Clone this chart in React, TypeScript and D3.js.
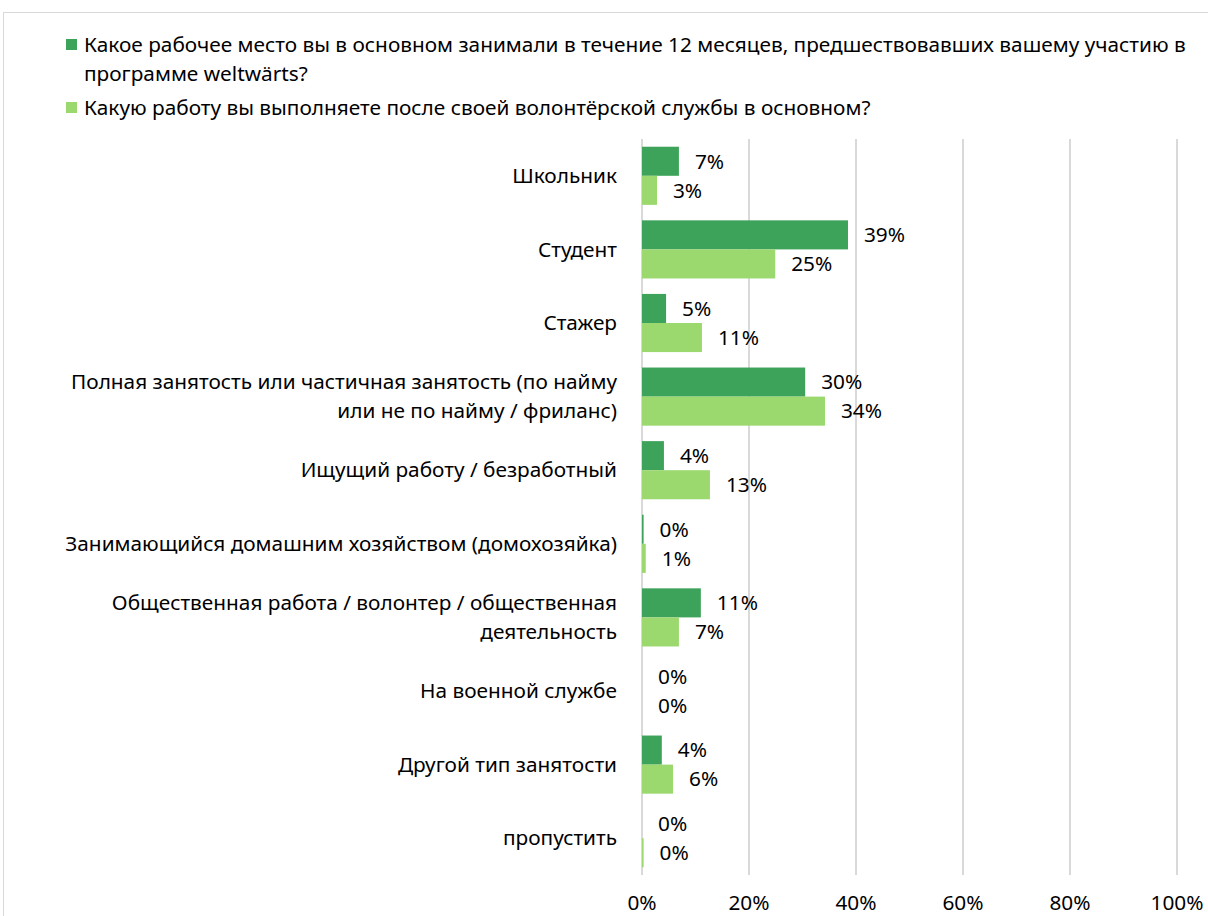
import * as d3 from "d3";
import React from "react";

const categories: string[][] = [
  ["Школьник"],
  ["Студент"],
  ["Стажер"],
  ["Полная занятость или частичная занятость (по найму", "или не по найму / фриланс)"],
  ["Ищущий работу / безработный"],
  ["Занимающийся домашним хозяйством (домохозяйка)"],
  ["Общественная работа / волонтер / общественная", "деятельность"],
  ["На военной службе"],
  ["Другой тип занятости"],
  ["пропустить"],
];

const before = [6.9, 38.5, 4.5, 30.5, 4.1, 0.3, 11.0, 0, 3.7, 0];
const after = [2.8, 24.9, 11.2, 34.2, 12.7, 0.7, 6.9, 0, 5.8, 0.3];
const beforeLabels = ["7%", "39%", "5%", "30%", "4%", "0%", "11%", "0%", "4%", "0%"];
const afterLabels = ["3%", "25%", "11%", "34%", "13%", "1%", "7%", "0%", "6%", "0%"];
const ticks = [0, 20, 40, 60, 80, 100];

const legend = [
  ["Какое рабочее место вы в основном занимали в течение 12 месяцев, предшествовавших вашему участию в", "программе weltwärts?"],
  ["Какую работу вы выполняете после своей волонтёрской службы в основном?"],
];

const dark = "#3ea35a";
const light = "#9bd86e";
const font = "'Noto Sans', 'Open Sans', sans-serif";
const fs = 20.8;

export default function App() {
  const W = 1208, H = 916;
  const x = d3.scaleLinear().domain([0, 100]).range([642, 1177]);
  const y = d3.scaleBand<number>().domain(d3.range(categories.length)).range([139, 875]).paddingInner(0.21).paddingOuter(0.105);
  const bh = y.bandwidth() / 2;

  return (
    <div style={{ position: "absolute", left: 0, top: 0 }}>
      <svg width={W} height={H} style={{ display: "block", fontFamily: font }}>
        <rect x={0} y={0} width={W} height={H} fill="#fff" />
        <rect x={3.5} y={12.5} width={W + 10} height={H} fill="none" stroke="#d9d9d9" />
        {/* legend */}
        <rect x={66} y={39} width={11} height={11} fill={dark} />
        <text x={84} y={45} dy="0.35em" fontSize={fs} fill="#000">{legend[0][0]}</text>
        <text x={84} y={74} dy="0.35em" fontSize={fs} fill="#000">{legend[0][1]}</text>
        <rect x={66} y={102} width={11} height={11} fill={light} />
        <text x={84} y={108} dy="0.35em" fontSize={fs} fill="#000">{legend[1][0]}</text>

        {/* grid */}
        {ticks.map(t => (
          <g key={t}>
            <line x1={x(t)} x2={x(t)} y1={139} y2={875} stroke="#d9d9d9" strokeWidth={2} />
            <text x={x(t)} y={903} dy="0.35em" textAnchor="middle" fontSize={fs} fill="#000">{t}%</text>
          </g>
        ))}

        {categories.map((c, i) => {
          const y0 = y(i)!;
          const cy = y0 + y.bandwidth() / 2;
          return (
            <g key={i}>
              <rect x={x(0)} y={y0} width={x(before[i]) - x(0)} height={bh} fill={dark} />
              <rect x={x(0)} y={y0 + bh} width={x(after[i]) - x(0)} height={bh} fill={light} />
              <text x={x(before[i]) + 16} y={y0 + bh / 2} dy="0.35em" fontSize={fs} fill="#000">{beforeLabels[i]}</text>
              <text x={x(after[i]) + 16} y={y0 + bh * 1.5} dy="0.35em" fontSize={fs} fill="#000">{afterLabels[i]}</text>
              {c.map((line, j) => (
                <text key={j} x={617} y={cy + (j - (c.length - 1) / 2) * 29} dy="0.35em" textAnchor="end" fontSize={fs} fill="#000">{line}</text>
              ))}
            </g>
          );
        })}
      </svg>
    </div>
  );
}
